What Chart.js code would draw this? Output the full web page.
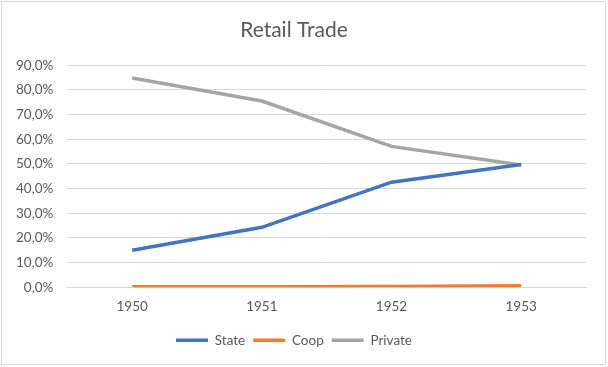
<!DOCTYPE html>
<html><head><meta charset="utf-8">
<script src="https://cdn.jsdelivr.net/npm/chart.js@4.4.0/dist/chart.umd.min.js"></script>
<style>html,body{margin:0;padding:0;background:#fff;}#wrap{width:608px;height:367px;}</style>
</head><body><div id="wrap"><canvas id="c" width="608" height="367"></canvas></div>
<script>
const categories = ["1950", "1951", "1952", "1953"];
const stateValues = [15.0, 24.3, 42.6, 49.8];
const coopValues = [0.2, 0.2, 0.3, 0.6];
const privateValues = [84.8, 75.5, 57.1, 49.6];
const yTicks = [0, 10, 20, 30, 40, 50, 60, 70, 80, 90];

const FONT = "Lato, 'Open Sans', sans-serif";
const borderPlugin = {
  id: 'frame',
  beforeDraw(chart) {
    const ctx = chart.ctx;
    ctx.save();
    ctx.fillStyle = '#fff';
    ctx.fillRect(0, 0, chart.width, chart.height);
    ctx.strokeStyle = '#d9d9d9';
    ctx.lineWidth = 1;
    ctx.strokeRect(1.5, 1.5, chart.width - 4, chart.height - 4);
    ctx.restore();
  }
};

new Chart(document.getElementById('c'), {
  type: 'line',
  data: {
    labels: categories,
    datasets: [
      { label: 'State', data: stateValues, borderColor: '#4472c4', backgroundColor: '#4472c4', borderWidth: 3.5 },
      { label: 'Coop', data: coopValues, borderColor: '#ed7d31', backgroundColor: '#ed7d31', borderWidth: 3.5 },
      { label: 'Private', data: privateValues, borderColor: '#a5a5a5', backgroundColor: '#a5a5a5', borderWidth: 3.5 }
    ]
  },
  options: {
    responsive: false,
    animation: false,
    devicePixelRatio: 1,
    layout: { padding: { left: 2, right: 22, top: 8, bottom: 10 } },
    elements: { point: { radius: 0, hoverRadius: 0 }, line: { tension: 0, borderCapStyle: 'butt' } },
    plugins: {
      title: { display: true, text: 'Retail Trade', color: '#595959', font: { family: FONT, size: 21, weight: 'normal' }, padding: { top: 10, bottom: 22 } },
      legend: {
        position: 'bottom',
        labels: { usePointStyle: true, pointStyle: 'line', pointStyleWidth: 32, boxHeight: 10, color: '#595959', font: { family: FONT, size: 13.5 }, padding: 8 }
      },
      tooltip: { enabled: false }
    },
    scales: {
      x: {
        offset: true,
        grid: { display: false, drawTicks: false },
        border: { display: true, color: '#d9d9d9' },
        ticks: { color: '#595959', font: { family: FONT, size: 13.5 }, padding: 11 }
      },
      y: {
        min: 0, max: 90,
        afterBuildTicks(axis) { axis.ticks = yTicks.map(v => ({ value: v })); },
        grid: { color: '#d9d9d9', drawTicks: false },
        border: { display: false },
        ticks: { color: '#595959', font: { family: FONT, size: 13.5 }, padding: 14,
          callback: v => v.toFixed(1).replace('.', ',') + '%' }
      }
    }
  },
  plugins: [borderPlugin]
});
</script></body></html>
